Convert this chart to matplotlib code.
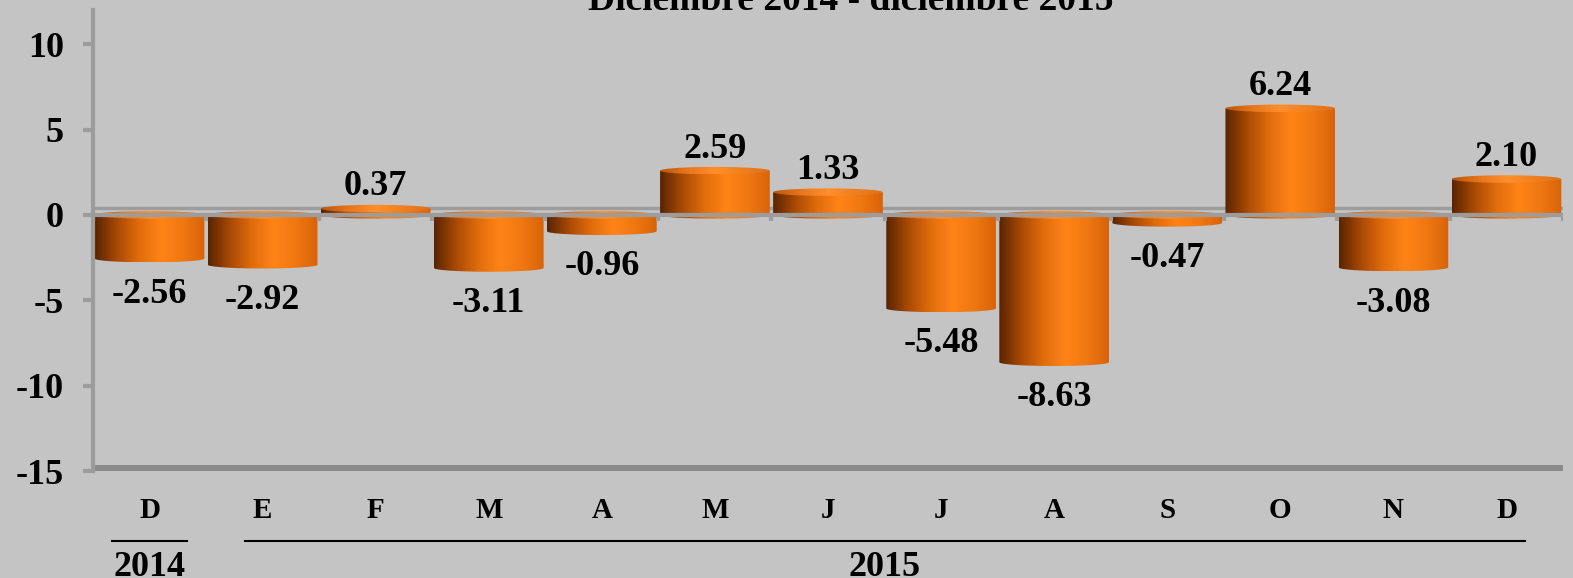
import numpy as np
import matplotlib
matplotlib.use("Agg")
import matplotlib.pyplot as plt
from matplotlib.colors import LinearSegmentedColormap
from matplotlib.path import Path
from matplotlib.patches import PathPatch
import matplotlib.transforms as mtransforms

months = ["D", "E", "F", "M", "A", "M", "J", "J", "A", "S", "O", "N", "D"]
values = [-2.56, -2.92, 0.37, -3.11, -0.96, 2.59, 1.33, -5.48, -8.63, -0.47, 6.24, -3.08, 2.10]
years = ["2014", "2015"]
year_span = [(0, 0), (1, 12)]
title = "Diciembre 2014 - diciembre 2015"

bg = "#c4c4c4"
axis_gray = "#9c9c9c"
font = "Liberation Serif"

body_cmap = LinearSegmentedColormap.from_list(
    "body", ["#5a2400", "#a84a04", "#e06c0c", "#ff8418", "#f07812", "#d86208"])
cap_cmap = LinearSegmentedColormap.from_list(
    "cap", ["#b8560c", "#e8761c", "#ff8e2c", "#f0801e", "#e07018"])
grad = np.linspace(0, 1, 256).reshape(1, -1)

fig = plt.figure(figsize=(15.73, 5.78), dpi=100, facecolor=bg)
ax = fig.add_axes([93 / 1573, 1 - 471 / 578, 1470 / 1573, 461 / 578])
ax.set_facecolor(bg)

n = len(values)
x = np.arange(n)
width = 0.97
eh = 0.22  # half height of the ellipses, in data units

# back wall zero line (behind bars)
ax.axhline(0.38, color=axis_gray, lw=2.5, zorder=1)
# floor at the bottom
ax.axhline(-14.85, color="#8a8a8a", lw=5, zorder=1)

t = np.linspace(np.pi, 2 * np.pi, 40)
for xi, v in zip(x, values):
    x0, x1 = xi - width / 2, xi + width / 2
    ytop, ybot = max(v, 0), min(v, 0)
    cx, rx = xi, width / 2
    # body: rectangle with an elliptic bottom edge
    verts = [(x0, ytop)]
    verts += [(cx + rx * np.cos(a), ybot + eh * np.sin(a)) for a in t]
    verts += [(x1, ytop), (x0, ytop)]
    patch = PathPatch(Path(verts), facecolor="none", edgecolor="none")
    ax.add_patch(patch)
    im = ax.imshow(grad, cmap=body_cmap, aspect="auto",
                   extent=[x0, x1, ybot - eh, ytop], zorder=2)
    im.set_clip_path(patch)
    # top cap
    tt = np.linspace(0, 2 * np.pi, 80)
    cverts = [(cx + rx * np.cos(a), ytop + eh * np.sin(a)) for a in tt]
    cpatch = PathPatch(Path(cverts), facecolor="none", edgecolor="none")
    ax.add_patch(cpatch)
    im2 = ax.imshow(grad, cmap=cap_cmap, aspect="auto",
                    extent=[x0, x1, ytop - eh, ytop + eh], zorder=3)
    im2.set_clip_path(cpatch)

    if v >= 0:
        ax.annotate(f"{v:.2f}", (xi, v + eh), xytext=(0, 1), textcoords="offset points",
                    ha="center", va="bottom", fontsize=26, fontweight="bold",
                    family=font, zorder=5)
    else:
        ax.annotate(f"{v:.2f}", (xi, v - eh), xytext=(0, -11), textcoords="offset points",
                    ha="center", va="top", fontsize=26, fontweight="bold",
                    family=font, zorder=5)

# front zero axis with category boundary ticks
ax.axhline(0, color=axis_gray, lw=3, zorder=4)
for b in np.arange(-0.5, n, 1.0):
    ax.plot([b, b], [0, -0.35], color=axis_gray, lw=3, zorder=4, solid_capstyle="butt")

ax.set_xlim(-0.5, n - 0.5)
ax.set_ylim(-15, 12)
ax.set_yticks(np.arange(-15, 11, 5))
ax.set_yticklabels([str(v) for v in np.arange(-15, 11, 5)])
ax.set_xticks([])
for s in ["top", "right", "bottom"]:
    ax.spines[s].set_visible(False)
ax.spines["left"].set_color(axis_gray)
ax.spines["left"].set_linewidth(3)
ax.tick_params(axis="y", length=7, width=3, color=axis_gray, pad=14)
for lab in ax.get_yticklabels():
    lab.set_fontsize(26)
    lab.set_fontweight("bold")
    lab.set_family(font)

trans = mtransforms.blended_transform_factory(ax.transData, fig.transFigure)
for xi, m in zip(x, months):
    ax.text(xi, 1 - 510 / 578, m, transform=trans, ha="center", va="center",
            fontsize=21, fontweight="bold", family=font)

for yr, (a, b) in zip(years, year_span):
    if a == b:
        l0, l1 = a - 0.33, b + 0.33
    else:
        l0, l1 = a - 0.16, b + 0.16
    ax.plot([l0, l1], [1 - 541 / 578] * 2, transform=trans, color="black",
            lw=1.5, clip_on=False)
    ax.text((a + b) / 2, 1 - 567 / 578, yr, transform=trans, ha="center",
            va="center", fontsize=26, fontweight="bold", family=font)

fig.text(0.541, 1.0, title, ha="center", va="center", fontsize=27,
         fontweight="bold", family=font)

fig.savefig("out.png", dpi=100, facecolor=bg)
